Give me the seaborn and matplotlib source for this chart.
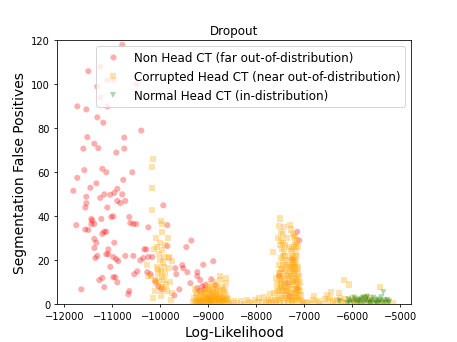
import matplotlib
matplotlib.use("Agg")
import matplotlib.pyplot as plt
import seaborn as sns
import pandas as pd

categories = ["Non Head CT (far out-of-distribution)",
              "Corrupted Head CT (near out-of-distribution)",
              "Normal Head CT (in-distribution)"]

red_pts = [(-10792,118),(-11500,106),(-11250,108),(-11104,102),(-10980,102),(-10500,100),
 (-11313,99),(-11250,94),(-11729,90),(-11542,88.6),(-11104,90),(-11313,85),(-11188,82.6),(-10396,79),
 (-11521,76),(-10750,75.8),(-11375,73),(-11292,71),(-11604,70.8),(-10917,69),(-10750,70.8),(-11583,61),
 (-11208,61.6),(-11125,60),(-10583,60),(-11729,57.5),(-11333,55),(-10771,56.6),(-11458,53),(-11812,51.6),
 (-10896,52.5),(-11167,50),(-11042,49.8),(-10958,50.7),(-10792,50),(-11542,48.9),(-11250,48.4),(-10896,47),
 (-10833,46),(-10729,47),(-11542,46),(-11562,44),(-11104,44),(-9937,45),(-11021,39.7),(-10979,40),
 (-10646,39.7),(-11437,38.8),(-11229,38.8),
 (-11750,36),(-11417,38),(-11562,34),(-11500,33.8),(-11437,36.5),(-11375,36.5),(-10625,37),(-10562,36.5),
 (-10500,36.5),(-10250,35),(-11125,33),(-11167,33),(-11208,32),(-11375,29.7),(-11333,28),(-10958,28),
 (-11375,25.6),(-11083,25),(-11125,22.8),(-11083,22.8),(-10979,21.5),(-10917,20.5),(-10875,19.6),
 (-11312,22),(-11354,21),(-10729,22),(-10562,22),(-10417,20),(-10354,21),(-10250,21.5),(-10167,21.5),
 (-10333,25),(-10292,25),(-9854,26.5),(-9854,36),(-11042,17),(-10479,15),(-10542,13.7),(-10271,14.6),
 (-10208,13.7),(-11208,12),(-11271,11),(-10979,12.3),(-10937,12.3),(-10896,10),(-11167,7.8),(-11646,6.8),
 (-10646,6),(-10667,4.6),(-10104,10.5),(-10042,8.2),(-9979,6.8),
 (-9354,29),(-9458,26),(-9542,17.8),(-9687,16.4),(-9521,16.4),(-9437,14.6),(-9667,13.7),(-9104,18),
 (-8896,19.6),(-9229,14.6),(-9229,12.8),(-9167,11),(-8937,11.4),(-9375,9.6),(-8854,8.7),(-9062,8.7),
 (-9229,7.3),(-9125,8.2),(-9083,6.8),(-9604,6.8),(-9708,4.1),(-9187,6),(-7521,13),
 (-7146,33),(-7104,29),(-7250,20.5),(-7354,9.6),(-7146,7.3),(-7312,3.7),(-9000,3),(-8950,2)]

orange_pts = [
 # left cluster
 (-10146,66),(-10167,62.6),(-10167,53),(-10167,43),(-9958,36.5),(-9958,33),(-9833,30),(-10000,28),
 (-10063,26),(-10125,25),(-9958,24.7),(-10021,22.8),(-9917,21.5),(-9812,21),(-10271,18),(-10063,17),
 (-9917,17),(-9812,16.4),(-10187,12.8),(-9958,12.3),(-9917,11),(-10083,9.6),(-9854,6),(-9750,5),
 (-10000,20),(-9937,19),(-10042,14),(-9979,15),(-9896,14),(-10021,10.5),(-9958,8),(-9917,7),(-10104,6),
 (-9875,9),(-9980,4),(-10146,3),(-9792,10),(-9771,2),(-9896,27),(-10083,30),(-9979,38),(-9750,19.6),
 (-10042,16),(-10104,11),(-9979,7.8),(-10250,12.8),(-9812,21.5),
 # bottom cluster
 (-9312,1),(-9292,3),(-9271,0.5),(-9250,2),(-9229,4),(-9208,1.5),(-9187,3),(-9167,0.4),(-9146,5),
 (-9125,2),(-9104,3.5),(-9083,1),(-9062,4.5),(-9042,2.5),(-9021,0.8),(-9000,6),(-8979,3),(-8958,1.5),
 (-8937,5),(-8917,2.2),(-8896,7),(-8875,0.6),(-8854,3.8),(-8833,1.8),(-8812,5.5),(-8792,2.6),(-8771,0.9),
 (-8750,4.2),(-8729,1.4),(-8708,3),(-8687,6.5),(-8667,0.5),(-8646,2),(-8625,4),(-8604,1),(-8583,2.5),
 (-8562,0.3),(-8750,13),(-8625,12),(-8625,9.6),(-9000,9),(-8958,8),(-8875,10),(-8812,8.5),(-8917,4),
 (-8979,6.5),(-9042,7),(-9125,5.5),(-9187,0.8),(-9250,5),(-8833,4.5),(-8771,6),(-8708,8),(-8687,2.5),
 (-8937,0.3),(-9083,3.2),(-9000,2),(-8854,0.8),(-8896,3.3),(-8667,5),(-9271,7),(-8750,11),
 (-9229,1),(-9167,2.5),(-9104,1.5),(-9042,0.5),(-8979,1),(-8917,0.7),(-8854,2),(-8792,0.5),(-8729,3.5),
 (-8667,2),(-8604,3),(-9146,1),(-9083,5.5),(-9021,3.5),(-8958,4.5),(-8896,5.5),(-8833,7),(-8771,3),
 (-8708,1),(-8646,7),(-9125,0.3),(-9000,0.5),(-8875,2.8),(-8750,1.8),(-8812,3.2),
 # sparse middle
 (-8520,0.4),(-8458,1.5),(-8396,0.6),(-8312,1.4),(-8250,0.3),(-8188,2),(-8146,1),(-8083,0.5),(-8021,1.8),
 (-7958,0.8),(-7937,2.7),(-7875,1.2),(-7833,3.5),(-7792,0.6),(-7750,2),(-7708,4.6),(-7729,1),
 # tall cluster
 (-7500,39),(-7521,35.6),(-7292,36),(-7437,32),(-7479,29),(-7354,30),(-7208,30.6),(-7646,23.7),(-7125,26),
 (-7500,27),(-7458,25),(-7417,24),(-7396,22),(-7479,21),(-7437,19),(-7521,18),(-7354,20),(-7271,24),
 (-7229,22),(-7188,21),(-7167,19),(-7250,18),(-7208,17),(-7146,16),(-7187,15),(-7229,14),(-7271,13),
 (-7312,12),(-7354,14),(-7396,15),(-7437,13),(-7479,12),(-7521,11),(-7562,9),(-7500,8),(-7458,7),
 (-7417,9),(-7375,6),(-7333,8),(-7292,9),(-7250,10),(-7208,11),(-7167,12),(-7125,10),(-7104,8),(-7146,6),
 (-7187,7),(-7229,5),(-7271,4),(-7312,5),(-7354,3),(-7396,4),(-7437,3),(-7479,4),(-7521,2),(-7562,3),
 (-7604,2),(-7646,1),(-7687,2),(-7146,3),(-7104,2),(-7062,4),(-7021,1),(-7187,1),(-7250,1.5),(-7333,1),
 (-7417,0.5),(-7500,0.8),(-7583,0.3),(-7187,28),(-7208,26),(-7167,24),(-7229,32),(-7271,34),(-7437,28),
 (-7396,27),(-7542,30),(-7479,33),(-7417,35),(-7229,19),(-7146,22),(-7125,17),(-7104,13),(-7083,6),
 (-7479,16),(-7521,14),(-7583,12),(-7562,6),(-7620,5),
 (-7458,10),(-7396,11),(-7333,13),(-7292,15),(-7250,16),(-7208,14),(-7167,9),(-7125,7),(-7187,4),
 (-7229,2),(-7271,7),(-7312,2),(-7354,6),(-7396,8),(-7437,6),(-7479,9),(-7521,6),(-7167,5),(-7146,11),
 (-7125,14),(-7187,18),(-7208,20),(-7250,25),(-7292,21),(-7312,18),(-7354,17),(-7396,18),(-7437,22),
 (-7458,16),(-7500,14),(-7167,27),(-7146,29),(-7187,31),(-7229,10),(-7271,17),(-7312,26),(-7104,4),
 (-7083,10),(-7062,1.5),(-7208,3),
 # right sparse
 (-7000,0.5),(-6937,1.2),(-6875,0.4),(-6812,2),(-6750,0.8),(-6687,1.5),(-6625,0.3),(-6562,2.5),(-6500,1),
 (-6458,3),(-6437,5.5),(-6396,1.5),(-6354,0.5),(-6312,2),(-6271,5),(-6250,3),(-6229,0.8),(-6167,11),
 (-6062,9),(-6187,1.2),(-6146,2.5),(-6104,0.6),(-6042,1.8),(-6000,3),(-5958,1),(-5896,2),(-5854,0.4),
 (-5812,1.5),(-5750,3.5),(-5708,2.2),(-5667,0.8),(-5625,2.8),(-5583,1.2),(-5521,0.5),(-5417,7.8),
 (-5458,2),(-5375,1),(-5312,0.6),(-5250,1.4),(-5150,0.5),(-6520,4),(-6800,3.8)]

green_pts = [(-6271,1.4),(-6062,0.8),(-6021,1.5),(-5979,0.5),(-5937,2.2),(-5917,0.9),(-5875,1.6),(-5854,0.3),
 (-5812,2.5),(-5792,1.0),(-5750,0.4),(-5729,1.8),(-5708,2.8),(-5667,0.6),(-5646,1.3),(-5604,2.0),
 (-5583,0.7),(-5562,3.0),(-5521,1.5),(-5500,0.4),(-5479,2.2),(-5437,0.9),(-5417,1.6),(-5396,3.2),
 (-5375,0.5),(-5354,5.5),(-5333,1.8),(-5312,0.8),(-5271,2.0),(-5250,0.6),(-5229,1.2),(-6083,2.2),
 (-6104,0.4),(-5958,3.0),(-5687,3.5),(-5625,0.3),(-5479,0.3),(-5854,2.0),(-5771,3.0)]

rows = []
for cat, pts in zip(categories, [red_pts, orange_pts, green_pts]):
    for x, y in pts:
        rows.append({"Log-Likelihood": x, "FP": y, "group": cat})
df = pd.DataFrame(rows)

fig, ax = plt.subplots(figsize=(6.4, 4.8), dpi=457/6.4)
sns.scatterplot(data=df, x="Log-Likelihood", y="FP", hue="group", style="group",
                hue_order=categories, style_order=categories,
                palette={categories[0]: "red", categories[1]: "orange", categories[2]: "green"},
                markers={categories[0]: "o", categories[1]: "s", categories[2]: "v"},
                s=38, alpha=0.32, edgecolor="none", linewidth=0, ax=ax)
ax.set_ylim(0, 120)
ax.set_xlim(-12150, -4770)
ax.set_title("Dropout")
ax.set_xlabel("Log-Likelihood", fontsize=14)
ax.set_ylabel("Segmentation False Positives", fontsize=14)
ax.legend(loc="upper right", fontsize=12, title=None)
fig.savefig("out.png", dpi=457/6.4)
